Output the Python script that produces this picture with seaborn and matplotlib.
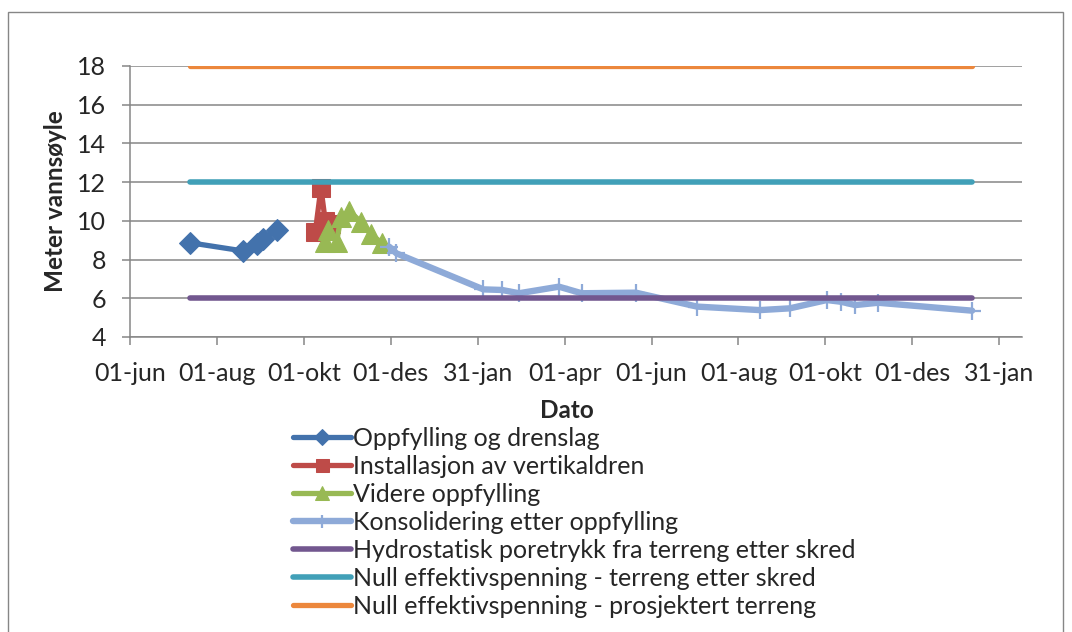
import matplotlib
matplotlib.use("Agg")
import matplotlib.pyplot as plt
import seaborn as sns
import pandas as pd
from matplotlib.patches import Rectangle

# ---------------- data ----------------
s1_dates = ["2011-07-13", "2011-08-19", "2011-08-29", "2011-09-02", "2011-09-12"]
s1_vals = [8.87, 8.45, 8.80, 9.05, 9.53]

s2_dates = ["2011-10-09", "2011-10-13", "2011-10-16", "2011-10-20"]
s2_vals = [9.40, 11.70, 10.00, 9.85]

s3_dates = ["2011-10-16", "2011-10-18", "2011-10-24", "2011-10-27", "2011-11-02",
            "2011-11-10", "2011-11-17", "2011-11-25"]
s3_vals = [8.90, 9.55, 8.90, 10.20, 10.50, 9.95, 9.30, 8.85]

s4_dates = ["2011-11-30", "2011-12-05", "2012-02-04", "2012-02-17", "2012-02-29",
            "2012-03-28", "2012-04-13", "2012-05-21", "2012-07-03", "2012-08-16",
            "2012-09-06", "2012-10-02", "2012-10-12", "2012-10-22", "2012-11-07",
            "2013-01-12"]
s4_vals = [8.66, 8.32, 6.46, 6.43, 6.26, 6.60, 6.26, 6.29, 5.57, 5.39,
           5.48, 5.91, 5.82, 5.65, 5.77, 5.36]

ref_dates = ["2011-07-13", "2013-01-12"]
hydro_vals = [6, 6]
null_skred_vals = [12, 12]
null_prosj_vals = [18, 18]

labels = ["Oppfylling og drenslag",
          "Installasjon av vertikaldren",
          "Videre oppfylling",
          "Konsolidering etter oppfylling",
          "Hydrostatisk poretrykk fra terreng etter skred",
          "Null effektivspenning - terreng etter skred",
          "Null effektivspenning - prosjektert terreng"]

tick_dates = ["2011-06-01", "2011-08-01", "2011-10-01", "2011-12-01", "2012-01-31",
              "2012-04-01", "2012-06-01", "2012-08-01", "2012-10-01", "2012-12-01",
              "2013-01-31"]
tick_labels = ["01-jun", "01-aug", "01-okt", "01-des", "31-jan", "01-apr",
               "01-jun", "01-aug", "01-okt", "01-des", "31-jan"]
y_ticks = [4, 6, 8, 10, 12, 14, 16, 18]

# ---------------- style ----------------
sns.set_style("white")
plt.rcParams["font.family"] = ["Lato", "DejaVu Sans"]

fig = plt.figure(figsize=(10.72, 6.32), dpi=100)
ax = fig.add_axes([130 / 1072, 1 - 337 / 632, 892 / 1072, 271 / 632])

grid_c = "#868686"
for yv in y_ticks:
    ax.axhline(yv, color=grid_c, lw=1.1, zorder=0)

colors = ["#4372AC", "#BE4B48", "#98B954", "#8EAAD8", "#72578F", "#41A0B8", "#EC873C"]
series = [
    (s1_dates, s1_vals, 3.8, dict(marker="D", markersize=11)),
    (s2_dates, s2_vals, 3.8, dict(marker="s", markersize=13)),
    (s3_dates, s3_vals, 3.8, dict(marker="^", markersize=14.5)),
    (s4_dates, s4_vals, 4.6, dict(marker="+", markersize=13, markeredgewidth=1.6)),
    (ref_dates, hydro_vals, 4.0, dict()),
    (ref_dates, null_skred_vals, 4.0, dict()),
    (ref_dates, null_prosj_vals, 3.8, dict()),
]

for i, (d, v, lw, kw) in enumerate(series):
    c = colors[i]
    df = pd.DataFrame({"dato": pd.to_datetime(d), "verdi": v})
    if kw:
        kw = dict(kw, markeredgecolor=c, markerfacecolor=c)
    sns.lineplot(data=df, x="dato", y="verdi", ax=ax, color=c, linewidth=lw,
                 label=labels[i], estimator=None, sort=False,
                 solid_capstyle="round", zorder=2 + i, **kw)

ax.set_ylim(4, 18)
ax.set_yticks(y_ticks)
ax.set_xlim(pd.Timestamp("2011-06-01"), pd.Timestamp("2013-02-16"))
ax.set_xticks(pd.to_datetime(tick_dates))
ax.set_xticklabels(tick_labels)

for sp in ["top", "right"]:
    ax.spines[sp].set_visible(False)
for sp in ["left", "bottom"]:
    ax.spines[sp].set_color(grid_c)
    ax.spines[sp].set_linewidth(1.1)

ax.tick_params(axis="y", which="both", direction="out", length=6, width=1.1,
               color=grid_c, left=True, labelsize=18, pad=11)
ax.tick_params(axis="x", which="both", direction="out", length=6, width=1.1,
               color=grid_c, bottom=True, labelsize=18, pad=12)

ax.set_ylabel("Meter vannsøyle", fontsize=17.5, fontweight="bold", va="center")
ax.yaxis.set_label_coords(-(130 - 56) / 892, 0.5)
ax.set_xlabel("Dato", fontsize=17.5, fontweight="bold", va="center")
ax.xaxis.set_label_coords((567 - 130) / 892, -(410 - 337) / 271)

handles, labs = ax.get_legend_handles_labels()
ax.get_legend().remove()
fig.legend(handles, labs, loc="upper left", bbox_to_anchor=(293 / 1072, 1 - 427 / 632),
           frameon=False, fontsize=18, handlelength=2.3, handletextpad=0.1,
           labelspacing=0.2, borderpad=0, borderaxespad=0, markerscale=0.72)

fig.patches.append(Rectangle((8 / 1072, -0.02), (1063 - 8) / 1072, 1 - 12 / 632 + 0.02,
                             transform=fig.transFigure, fill=False,
                             edgecolor=grid_c, linewidth=1.0, zorder=-1))

fig.savefig("out.png", dpi=100)
